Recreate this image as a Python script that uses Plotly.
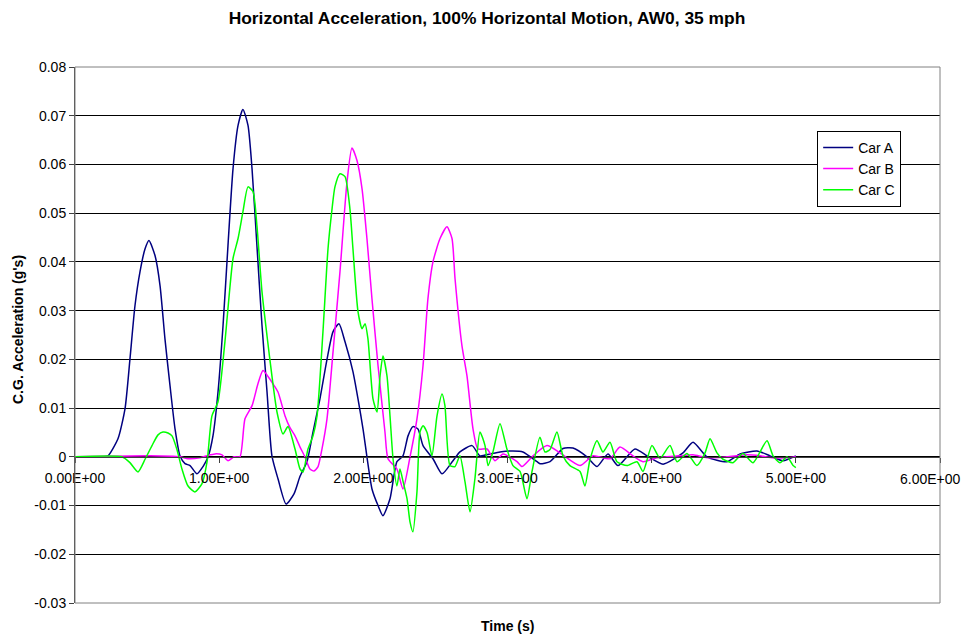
import plotly.graph_objects as go

# ---------------- data ----------------
car_a_t = [0.000, 0.201, 0.229, 0.298, 0.347, 0.381, 0.416, 0.451, 0.486, 0.513, 0.555, 0.590,
           0.624, 0.659, 0.694, 0.728, 0.763, 0.798, 0.846, 0.888, 0.923, 0.957, 0.992, 1.027,
           1.061, 1.096, 1.131, 1.165, 1.200, 1.228, 1.262, 1.297, 1.332, 1.366, 1.408, 1.464,
           1.519, 1.561, 1.609, 1.651, 1.699, 1.748, 1.790, 1.831, 1.873, 1.928, 1.963, 1.998,
           2.060, 2.102, 2.136, 2.185, 2.233, 2.275, 2.310, 2.344, 2.379, 2.414, 2.483, 2.546,
           2.622, 2.670, 2.754, 2.809, 2.879, 2.948, 3.038, 3.107, 3.205, 3.225, 3.295, 3.385,
           3.454, 3.551, 3.621, 3.697, 3.766, 3.884, 3.968, 4.079, 4.217, 4.287, 4.384, 4.522,
           4.613, 4.731, 4.821, 4.911, 5.000]
car_a_v = [0.0, 0.0, 0.0002, 0.0037, 0.0099, 0.0200, 0.0310, 0.0380, 0.0427, 0.0444, 0.0413, 0.0351,
           0.0242, 0.0146, 0.0057, 0.0002, -0.0014, -0.0018, -0.0035, -0.0020, 0.0000, 0.0043, 0.0133, 0.0270,
           0.0433, 0.0591, 0.0680, 0.0713, 0.0680, 0.0591, 0.0433, 0.0270, 0.0133, 0.0002, -0.0045, -0.0097,
           -0.0076, -0.0040, -0.0010, 0.0051, 0.0119, 0.0200, 0.0257, 0.0273, 0.0236, 0.0175, 0.0119, 0.0057,
           -0.0066, -0.0100, -0.0121, -0.0086, -0.0010, 0.0002, 0.0043, 0.0062, 0.0057, 0.0023, -0.0004, -0.0035,
           -0.0008, 0.0010, 0.0023, 0.0002, 0.0006, 0.0010, 0.0012, 0.0010, -0.0010, -0.0014, -0.0010, 0.0017,
           0.0018, 0.0000, -0.0020, 0.0006, -0.0018, 0.0016, 0.0002, -0.0015, 0.0008, 0.0030, 0.0000, -0.0010,
           0.0006, 0.0012, 0.0002, -0.0008, 0.0002]

car_b_t = [0.000, 0.520, 0.728, 0.784, 0.867, 0.923, 0.971, 1.020, 1.061, 1.103, 1.144, 1.179,
           1.228, 1.269, 1.304, 1.339, 1.373, 1.408, 1.457, 1.491, 1.526, 1.561, 1.595, 1.630,
           1.658, 1.686, 1.713, 1.748, 1.790, 1.838, 1.887, 1.921, 1.956, 1.991, 2.025, 2.060,
           2.102, 2.150, 2.171, 2.233, 2.275, 2.324, 2.372, 2.414, 2.448, 2.483, 2.532, 2.580,
           2.615, 2.636, 2.684, 2.719, 2.761, 2.795, 2.858, 2.913, 2.969, 3.066, 3.100, 3.177,
           3.274, 3.364, 3.503, 3.593, 3.711, 3.780, 3.870, 3.940, 4.037, 4.106, 4.196, 4.287,
           4.384, 4.522, 4.661, 4.751, 4.842, 4.939, 5.000]
car_b_v = [0.0, 0.0002, 0.0000, -0.0004, -0.0002, 0.0003, 0.0006, 0.0004, -0.0008, 0.0000, 0.0000, 0.0078,
           0.0105, 0.0150, 0.0177, 0.0165, 0.0150, 0.0133, 0.0084, 0.0060, 0.0043, 0.0020, 0.0000, -0.0025,
           -0.0029, -0.0020, 0.0016, 0.0078, 0.0216, 0.0380, 0.0565, 0.0634, 0.0608, 0.0550, 0.0448, 0.0324,
           0.0187, 0.0051, -0.0004, -0.0025, -0.0066, 0.0000, 0.0078, 0.0187, 0.0324, 0.0400, 0.0448, 0.0472,
           0.0448, 0.0366, 0.0228, 0.0166, 0.0057, 0.0016, 0.0016, -0.0008, 0.0006, -0.0010, -0.0020, 0.0002,
           0.0023, 0.0008, -0.0018, 0.0002, -0.0004, 0.0020, 0.0002, -0.0010, -0.0002, 0.0000, 0.0002, 0.0004,
           -0.0002, 0.0000, 0.0004, 0.0002, -0.0002, -0.0002, 0.0000]

car_c_t = [0.000, 0.326, 0.381, 0.437, 0.486, 0.534, 0.576, 0.610, 0.645, 0.673, 0.707, 0.742,
           0.784, 0.832, 0.881, 0.916, 0.950, 0.992, 1.040, 1.096, 1.131, 1.165, 1.200, 1.235,
           1.262, 1.297, 1.332, 1.366, 1.401, 1.443, 1.477, 1.526, 1.561, 1.582, 1.616, 1.651,
           1.679, 1.720, 1.755, 1.783, 1.803, 1.838, 1.873, 1.907, 1.928, 1.963, 1.991, 2.012,
           2.032, 2.067, 2.095, 2.116, 2.136, 2.164, 2.185, 2.206, 2.233, 2.254, 2.275, 2.303,
           2.324, 2.344, 2.372, 2.393, 2.414, 2.442, 2.476, 2.511, 2.546, 2.566, 2.601, 2.636,
           2.670, 2.705, 2.740, 2.774, 2.809, 2.844, 2.865, 2.899, 2.948, 2.996, 3.038, 3.087,
           3.135, 3.170, 3.225, 3.260, 3.295, 3.343, 3.385, 3.433, 3.503, 3.537, 3.572, 3.621,
           3.662, 3.711, 3.759, 3.829, 3.898, 3.940, 4.002, 4.058, 4.127, 4.176, 4.245, 4.314,
           4.370, 4.405, 4.453, 4.495, 4.564, 4.633, 4.703, 4.800, 4.842, 4.890, 4.939, 4.981,
           5.000]
car_c_v = [0.0, 0.0000, -0.0012, -0.0031, -0.0005, 0.0023, 0.0045, 0.0051, 0.0049, 0.0043, 0.0015, -0.0025,
           -0.0060, -0.0072, -0.0055, -0.0010, 0.0084, 0.0113, 0.0236, 0.0407, 0.0448, 0.0503, 0.0554, 0.0544,
           0.0474, 0.0339, 0.0248, 0.0166, 0.0092, 0.0047, 0.0062, 0.0016, -0.0025, -0.0031, 0.0016, 0.0043,
           0.0084, 0.0257, 0.0427, 0.0509, 0.0554, 0.0581, 0.0575, 0.0509, 0.0427, 0.0298, 0.0263, 0.0273,
           0.0242, 0.0119, 0.0092, 0.0166, 0.0207, 0.0166, 0.0084, -0.0004, -0.0060, -0.0025, -0.0050, -0.0086,
           -0.0134, -0.0154, -0.0072, 0.0051, 0.0064, 0.0050, 0.0002, 0.0084, 0.0129, 0.0105, -0.0018, -0.0020,
           0.0002, -0.0051, -0.0113, -0.0045, 0.0051, 0.0023, -0.0018, 0.0010, 0.0068, 0.0016, -0.0018, -0.0030,
           -0.0086, -0.0030, 0.0040, 0.0010, 0.0015, 0.0051, 0.0002, -0.0018, -0.0030, -0.0060, -0.0006, 0.0033,
           0.0010, 0.0030, -0.0010, -0.0018, -0.0010, -0.0030, 0.0023, -0.0003, 0.0023, -0.0010, 0.0007, -0.0018,
           0.0008, 0.0037, 0.0008, -0.0005, -0.0012, 0.0007, -0.0012, 0.0033, 0.0002, -0.0012, 0.0000, -0.0018,
           -0.0022]

series_names = ["Car A", "Car B", "Car C"]
series_colors = ["#000080", "#FF00FF", "#00FF00"]

x_tick_vals = [0, 1, 2, 3, 4, 5, 6]
x_tick_text = ["0.00E+00", "1.00E+00", "2.00E+00", "3.00E+00", "4.00E+00", "5.00E+00", "6.00E+00"]
y_tick_vals = [-0.03, -0.02, -0.01, 0, 0.01, 0.02, 0.03, 0.04, 0.05, 0.06, 0.07, 0.08]
y_tick_text = ["-0.03", "-0.02", "-0.01", "0", "0.01", "0.02", "0.03", "0.04", "0.05", "0.06", "0.07", "0.08"]

title_text = "Horizontal Acceleration, 100% Horizontal Motion, AW0, 35 mph"
x_title = "Time (s)"
y_title = "C.G. Acceleration (g's)"

# ---------------- figure ----------------
FONT = "Liberation Sans, Arial, sans-serif"
Y_MIN, Y_MAX = -0.03, 0.08
# the page body adds an 8px offset; figure size/margins compensate for it
W, H = 964, 631
ML, MR, MT, MB = 67, 32, 59, 36
PW, PH = W - ML - MR, H - MT - MB

fig = go.Figure()
for t, v, name, col in zip([car_a_t, car_b_t, car_c_t], [car_a_v, car_b_v, car_c_v],
                           series_names, series_colors):
    fig.add_trace(go.Scatter(x=t, y=v, mode="lines", name=name,
                             line=dict(color=col, width=1.5, shape="spline", smoothing=0.6)))

fig.update_layout(
    width=W, height=H,
    margin=dict(l=ML, r=MR, t=MT, b=MB, autoexpand=False),
    paper_bgcolor="white", plot_bgcolor="white",
    font=dict(family=FONT, size=14, color="black"),
    title=dict(text="<b>" + title_text + "</b>", x=479 / W, xanchor="center",
               y=1 - 10 / H, yanchor="middle",
               font=dict(family=FONT, size=17.4, color="black")),
    showlegend=True,
    legend=dict(x=0.858, y=0.881, xanchor="left", yanchor="top",
                bgcolor="white", bordercolor="black", borderwidth=1,
                font=dict(family=FONT, size=14, color="black"),
                tracegroupgap=0, itemwidth=30),
)

# the last tick label sits at the window's right edge: it is drawn as an
# annotation kept just inside the page so it is not clipped
shown_x_text = x_tick_text[:-1] + [""]

fig.update_xaxes(
    range=[0, 6], tickmode="array", tickvals=x_tick_vals, ticktext=shown_x_text,
    anchor="free", position=(0 - Y_MIN) / (Y_MAX - Y_MIN), automargin=False,
    showline=True, linecolor="#404040", linewidth=1,
    ticks="outside", ticklen=5, tickcolor="#404040", ticklabelstandoff=3,
    showgrid=False, zeroline=False, ticklabeloverflow="allow",
    tickfont=dict(family=FONT, size=14, color="black"),
)
fig.update_yaxes(
    range=[Y_MIN, Y_MAX], tickmode="array", tickvals=y_tick_vals, ticktext=y_tick_text,
    automargin=False,
    showline=True, linecolor="#404040", linewidth=1,
    ticks="outside", ticklen=5, tickcolor="#404040",
    showgrid=True, gridcolor="black", gridwidth=1, zeroline=False,
    tickfont=dict(family=FONT, size=14, color="black"),
)

fig.add_annotation(text=x_tick_text[-1], xref="x", yref="y",
                   x=x_tick_vals[-1], y=0, xanchor="right", yanchor="middle",
                   xshift=23, yshift=-22, showarrow=False,
                   font=dict(family=FONT, size=14, color="black"))

# plot-area border
fig.add_shape(type="rect", xref="paper", yref="paper", x0=0, x1=1, y0=0, y1=1,
              line=dict(color="#808080", width=1), layer="above")

# axis titles
fig.add_annotation(text="<b>" + x_title + "</b>", xref="paper", yref="paper",
                   x=0.5, y=-23 / PH, xanchor="center", yanchor="middle",
                   showarrow=False, font=dict(family=FONT, size=14, color="black"))
fig.add_annotation(text="<b>" + y_title + "</b>", xref="paper", yref="paper",
                   x=-57 / PW, y=(603 - 330) / PH, xanchor="center", yanchor="middle",
                   textangle=-90, showarrow=False,
                   font=dict(family=FONT, size=14, color="black"))

fig.write_html("out.html")
